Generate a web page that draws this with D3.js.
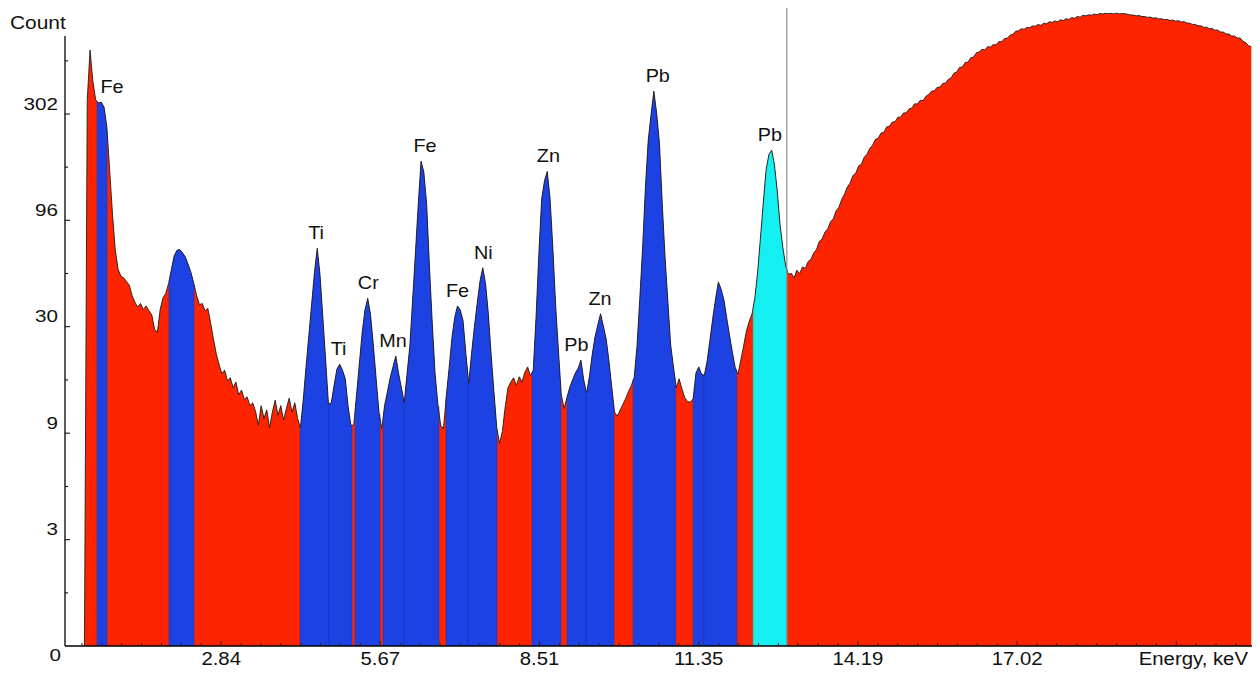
<!DOCTYPE html>
<html>
<head>
<meta charset="utf-8">
<script src="https://cdn.jsdelivr.net/npm/d3@7"></script>
<style>
  body { margin: 0; background: #ffffff; }
  svg { display: block; }
  text { font-family: "Liberation Sans", Arial, Helvetica, sans-serif; fill: #111; }
</style>
</head>
<body>
<svg id="chart" width="1260" height="673"></svg>
<script>
// Spectrum channels: first channel energy and channel width (keV)
const energyStart = 0.40;
const energyStep = 0.05;

// Counts per channel
const counts = [
  0, 350, 600, 430, 352, 340, 343, 325, 262, 165, 103, 70, 57, 53, 52, 50, 48, 43, 40, 38,
  39.5, 37, 38.5, 36.5, 35, 30, 29, 37, 42, 44, 49, 57, 66, 70, 70.5, 68, 65, 60, 55, 49,
  43, 39, 39.5, 36.5, 37.5, 32, 27, 23, 20.5, 18.6, 19.3, 17.2, 17.8, 16.0, 17.0, 14.8, 15.6, 14.1, 14.5, 13.2,
  13.6, 12.4, 10.7, 13.2, 11.5, 12.6, 10.4, 12.3, 14.0, 11.9, 13.2, 11.3, 12.8, 14.3, 12.3, 13.6, 11.5, 10.4, 14, 20,
  28, 39.3, 55, 71.5, 53.5, 34, 21.5, 13.4, 13.6, 16.4, 19.5, 20.6, 19.3, 17.6, 13.1, 10.7, 10.7, 14.8, 20.6, 28.8,
  36.8, 41.8, 35, 25.3, 17.6, 12.3, 10.3, 13.2, 15.3, 17.8, 20, 22.5, 18.7, 16, 13.6, 18.5, 25, 41, 68, 114,
  182, 162, 115, 59, 32, 18.7, 13.4, 10.7, 10.3, 14.6, 19.7, 27.2, 34, 38.5, 36.8, 32.7, 23, 16.8, 23, 30.6,
  39.3, 50, 58, 49, 35.4, 22.7, 15.3, 10.4, 8.8, 10, 13, 16, 17, 17.8, 16.4, 18, 17, 18.9, 20, 18.2,
  19.3, 34, 67, 121, 147, 163, 122, 71.5, 38.5, 23.7, 14.8, 12.8, 14.4, 16, 17.4, 18.7, 19.7, 21.5, 17.4, 15.1,
  17.9, 22.7, 27.5, 31.3, 35.4, 31, 27, 21.3, 16.1, 12.3, 11.8, 12.6, 13.4, 14.3, 15.4, 16.4, 17.9, 25, 41.8, 72,
  138, 228, 300, 386, 305, 220, 115, 65, 40.5, 25.3, 20, 16, 17.6, 15.8, 14.4, 13.8, 13.7, 14.2, 18.7, 20,
  18.5, 18.3, 21.3, 26.7, 33.7, 41.5, 49.8, 46, 41, 33.7, 28, 23.4, 19.9, 18.5, 21.5, 25, 29.4, 32.6, 35.3, 41.8,
  55.3, 79.6, 116, 165, 195, 205, 175, 132, 92, 72, 59, 54, 54.6, 52, 56.5, 54.5, 58.5, 57.5, 62, 63.5,
  68, 70.5, 77, 79, 85, 88, 95, 98, 107, 111, 121, 128, 138, 144, 156, 160, 173, 176, 190, 196,
  209, 216, 230, 233, 246, 248, 263, 265, 277, 278, 292, 292, 305, 306, 319, 322, 337, 336, 350, 349,
  365, 372, 386, 388, 402, 403, 419, 421, 438, 445, 468, 474, 498, 500, 525, 527, 553, 556, 583, 588,
  605, 601, 622, 620, 636, 634, 657, 655, 678, 681, 704, 710, 734, 738, 754, 750, 765, 763, 777, 775,
  789, 782, 800, 795, 813, 807, 820, 813, 830, 824, 840, 833, 850, 844, 861, 854, 872, 866, 876, 871,
  883, 877, 889, 883, 891, 885, 890, 884, 891, 884, 889, 885, 881, 875, 873, 866, 869, 860, 860, 852,
  855, 845, 848, 838, 840, 831, 834, 824, 828, 818, 822, 811, 814, 802, 801, 790, 790, 778, 779, 766,
  767, 755, 756, 743, 744, 728, 728, 713, 713, 697, 698, 682, 683, 660, 650, 628, 622
];

// Regions of interest (keV), their kind and element labels
const roiStart = [0.624, 1.907, 4.242, 4.759, 5.223, 5.722, 6.096, 6.845, 7.237, 8.378, 9.002, 9.340, 10.18, 11.25, 11.44, 12.32];
const roiEnd   = [0.802, 2.353, 4.759, 5.169, 5.668, 6.096, 6.720, 7.237, 7.754, 8.895, 9.340, 9.840, 10.94, 11.44, 12.03, 12.92];
const roiKind  = ["peak", "peak", "peak", "peak", "peak", "peak", "peak", "peak", "peak", "peak", "peak", "peak", "peak", "peak", "peak", "selected"];
const roiLabel = ["Fe", "", "Ti", "Ti", "Cr", "Mn", "Fe", "Fe", "Ni", "Zn", "Pb", "Zn", "Pb", "", "", "Pb"];
const roiLabelEnergy = [0.89, 0, 4.53, 4.93, 5.46, 5.90, 6.47, 7.05, 7.51, 8.67, 9.17, 9.59, 10.62, 0, 0, 12.62];

// Cursor position (keV)
const cursorEnergy = 12.92;

// Axis ticks
const xTickValues = [2.8375, 5.675, 8.5125, 11.35, 14.1875, 17.025];
const xTickLabels = ["2.84", "5.67", "8.51", "11.35", "14.19", "17.02"];
const yTickValues = [1, 3.13, 9.82, 30.8, 96.5, 302];
const yTickLabels = ["0", "3", "9", "30", "96", "302"];

// ---------------------------------------------------------------
const colors = { spectrum: "#ff2400", peak: "#1c42e4", selected: "#14f0f2", outline: "#1b1b1b" };

const svg = d3.select("#chart");
const plotLeft = 65, plotRight = 1252, plotBottom = 646, axisTop = 36;

const x = d3.scaleLinear().domain([0, 21.2]).range([62, 1251.3]);
const y = d3.scaleLog().domain([1, 302]).range([plotBottom, 114]);
const yv = v => y(Math.max(1, v));

const spectrum = counts.map((c, i) => ({ e: energyStart + i * energyStep, c }));

const area = d3.area()
  .x(d => x(d.e))
  .y0(plotBottom)
  .y1(d => yv(d.c));

const line = d3.line()
  .x(d => x(d.e))
  .y(d => yv(d.c));

// Full spectrum
svg.append("path")
  .datum(spectrum)
  .attr("d", area)
  .attr("fill", colors.spectrum);

// Regions of interest, filled from the same spectrum
const defs = svg.append("defs");
const rois = roiStart.map((s, i) => ({
  s, e: roiEnd[i], kind: roiKind[i], label: roiLabel[i], labelE: roiLabelEnergy[i], id: "roi" + i
}));

rois.forEach(r => {
  defs.append("clipPath").attr("id", r.id)
    .append("rect")
    .attr("x", x(r.s)).attr("y", 0)
    .attr("width", x(r.e) - x(r.s)).attr("height", plotBottom);
  svg.append("path")
    .datum(spectrum)
    .attr("d", area)
    .attr("clip-path", `url(#${r.id})`)
    .attr("fill", colors[r.kind]);
});

// Region edges
const edgeG = svg.append("g");
rois.forEach(r => {
  const top = d3.min(spectrum.filter(d => Math.abs(d.e - r.s) < 0.05), d => yv(d.c));
  [r.s, r.e].forEach(ev => {
    const near = spectrum.reduce((a, b) => Math.abs(b.e - ev) < Math.abs(a.e - ev) ? b : a);
    edgeG.append("line")
      .attr("x1", x(ev)).attr("x2", x(ev))
      .attr("y1", yv(near.c) + 2).attr("y2", plotBottom)
      .attr("stroke", r.kind === "selected" ? "#0fb8c0" : "#1535b0")
      .attr("stroke-opacity", 0.45)
      .attr("stroke-width", 1);
  });
});

// Spectrum outline
svg.append("path")
  .datum(spectrum)
  .attr("d", line)
  .attr("fill", "none")
  .attr("stroke", colors.outline)
  .attr("stroke-width", 0.9)
  .attr("stroke-linejoin", "round");

// Cursor
svg.append("line")
  .attr("x1", x(cursorEnergy)).attr("x2", x(cursorEnergy))
  .attr("y1", 8).attr("y2", plotBottom)
  .attr("stroke", "#8c8c8c")
  .attr("stroke-width", 1.2);

// Element labels above each labelled peak
rois.filter(r => r.label).forEach(r => {
  const inside = spectrum.filter(d => d.e >= r.s && d.e <= r.e);
  const peakTop = d3.min(inside, d => yv(d.c));
  svg.append("text")
    .attr("transform", `translate(${x(r.labelE)},${peakTop - 9}) scale(1.1,1)`)
    .attr("text-anchor", "middle")
    .attr("font-size", 18)
    .text(r.label);
});

// Axes
const axisG = svg.append("g").attr("stroke", "#000");
axisG.append("line")
  .attr("x1", plotLeft).attr("x2", plotLeft)
  .attr("y1", axisTop).attr("y2", plotBottom)
  .attr("stroke-width", 1.3);
axisG.append("line")
  .attr("x1", plotLeft).attr("x2", plotRight)
  .attr("y1", plotBottom).attr("y2", plotBottom)
  .attr("stroke-width", 1.3);

// y ticks: major ticks plus one minor tick halfway (log) between them
const yMinor = [];
for (let i = 0; i < yTickValues.length; i++) {
  const next = i + 1 < yTickValues.length ? yTickValues[i + 1] : yTickValues[i] * (yTickValues[i] / yTickValues[i - 1]);
  yMinor.push(Math.sqrt(yTickValues[i] * next));
}
yTickValues.slice(1).forEach(v => {
  axisG.append("line").attr("x1", plotLeft).attr("x2", plotLeft + 5)
    .attr("y1", y(v)).attr("y2", y(v)).attr("stroke-width", 1);
});
yMinor.filter(v => y(v) > axisTop).forEach(v => {
  axisG.append("line").attr("x1", plotLeft).attr("x2", plotLeft + 3)
    .attr("y1", y(v)).attr("y2", y(v)).attr("stroke-width", 1);
});

// x ticks: majors plus eight subdivisions
const xStep = xTickValues[0] / 8;
d3.range(1, Math.floor(21.2 / xStep) + 1).forEach(k => {
  const ev = k * xStep;
  const major = k % 8 === 0;
  axisG.append("line")
    .attr("x1", x(ev)).attr("x2", x(ev))
    .attr("y1", plotBottom).attr("y2", plotBottom - (major ? 5 : 3))
    .attr("stroke-width", 1)
    .attr("stroke", "#3a1a10");
});

// Tick labels
yTickLabels.forEach((t, i) => {
  const v = yTickValues[i];
  const isZero = i === 0;
  svg.append("text")
    .attr("transform", `translate(${isZero ? 61 : 58},${isZero ? 661 : y(v) - 4.5}) scale(1.25,1)`)
    .attr("text-anchor", "end")
    .attr("font-size", 16.5)
    .text(t);
});
xTickLabels.forEach((t, i) => {
  svg.append("text")
    .attr("transform", `translate(${x(xTickValues[i])},665) scale(1.1,1)`)
    .attr("text-anchor", "middle")
    .attr("font-size", 18.5)
    .text(t);
});

svg.append("text")
  .attr("transform", "translate(1248,665) scale(1.1,1)")
  .attr("text-anchor", "end")
  .attr("font-size", 18.5)
  .text("Energy, keV");

svg.append("text")
  .attr("transform", "translate(10,29) scale(1.1,1)")
  .attr("font-size", 19)
  .text("Count");
</script>
</body>
</html>
